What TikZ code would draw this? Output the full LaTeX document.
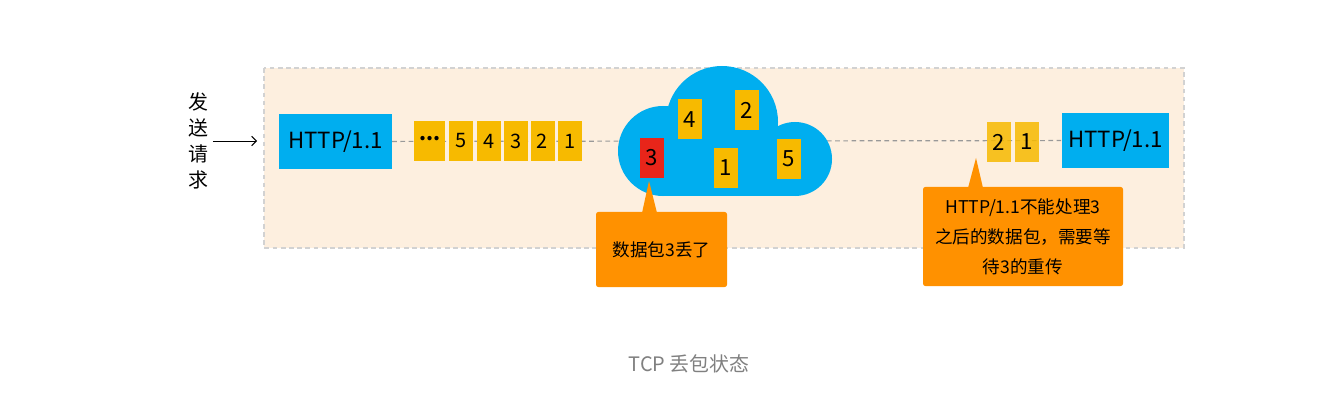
\documentclass[tikz,border=0pt]{standalone}
\usepackage{fontspec}
\newfontfamily\cjk{Noto Sans CJK SC}
\usetikzlibrary{arrows.meta}

\pgfdeclarelayer{bg}
\pgfsetlayers{bg,main}

\definecolor{pktblue}{RGB}{0,174,239}
\definecolor{pktyellow}{RGB}{247,186,0}
\definecolor{pktred}{RGB}{232,37,26}
\definecolor{noteorange}{RGB}{255,145,0}
\definecolor{boxbg}{RGB}{253,239,223}
\definecolor{capgray}{RGB}{128,128,128}

\tikzset{
  httpbox/.style={fill=pktblue, minimum height=1.65cm, inner sep=0pt,
    font=\cjk\fontsize{19}{19}\selectfont},
  pkt/.style={fill=pktyellow, minimum width=0.72cm, minimum height=1.2cm, inner sep=0pt,
    font=\cjk\fontsize{17}{17}\selectfont},
  bigpkt/.style={pkt, font=\cjk\fontsize{19}{19}\selectfont},
  lostpkt/.style={bigpkt, fill=pktred},
  note/.style={fill=noteorange, rounded corners=2pt, inner sep=0pt, align=center,
    font=\cjk\fontsize{15}{25.5}\selectfont},
}

\begin{document}
\begin{tikzpicture}[x=0.03cm, y=-0.03cm]
  \useasboundingbox (0,0) rectangle (1329,404);

  % sender side
  \node[font=\cjk\fontsize{17}{22}\selectfont, align=center, inner sep=4pt] (sendtxt) at (198,141) {发\\送\\请\\求};
  \coordinate (arrEnd) at (257,141);
  \node[httpbox, minimum width=3.39cm] (httpL) at (335.5,141.5) {HTTP/1.1};
  \node[pkt, minimum width=0.93cm] (dots) at (429.5,141) {\raisebox{0.3em}{\textbf{...}}};
  \node[pkt] (pk5) at (461,141) {5};
  \node[pkt] (pk4) at (489,141) {4};
  \node[pkt] (pk3) at (516,141) {3};
  \node[pkt] (pk2) at (542.5,141) {2};
  \node[pkt] (pk1) at (570,141) {1};

  % cloud
  \fill[pktblue] (722,122) circle[radius=1.68cm];
  \fill[pktblue] (663,151) circle[radius=1.35cm];
  \fill[pktblue] (795,159) circle[radius=1.11cm];
  \fill[pktblue] (663,140) rectangle (795,196);
  \node[lostpkt] (lost3) at (651.5,158) {3};
  \node[bigpkt] (c4) at (690,119.5) {4};
  \node[bigpkt] (c2) at (747,110) {2};
  \node[bigpkt] (c1) at (726,168) {1};
  \node[bigpkt] (c5) at (789,159) {5};

  % receiver side
  \node[bigpkt, fill opacity=0.85, text opacity=1] (r2) at (998.5,142) {2};
  \node[bigpkt, fill opacity=0.85, text opacity=1] (r1) at (1027,142) {1};
  \node[httpbox, minimum width=3.21cm] (httpR) at (1115.5,140.5) {HTTP/1.1};

  \begin{pgfonlayer}{bg}
    \draw[fill=boxbg, draw=gray!35, line width=1pt, dash pattern=on 4pt off 3pt] (264,68) rectangle (1184,248);
    \draw[gray!80, line width=1pt, dash pattern=on 4pt off 3pt] (httpL) -- (httpR);
  \end{pgfonlayer}

  \draw[-{Straight Barb[length=4pt]}, line width=0.8pt] (sendtxt) -- (arrEnd);

  % notes
  \fill[noteorange] (642,213) -- (649,181) -- (657,213) -- cycle;
  \node[note, minimum width=3.93cm, minimum height=2.25cm] (note1) at (661.5,249.5) {数据包3丢了};
  \fill[noteorange] (968,188) -- (976,158) -- (983,188) -- cycle;
  \node[note, minimum width=6cm, minimum height=2.97cm] (note2) at (1023,236.5) {HTTP/1.1不能处理3\\之后的数据包，需要等\\待3的重传};

  \node[font=\cjk\fontsize{17}{17}\selectfont, text=capgray] (caption) at (689,364) {TCP 丢包状态};
\end{tikzpicture}
\end{document}
